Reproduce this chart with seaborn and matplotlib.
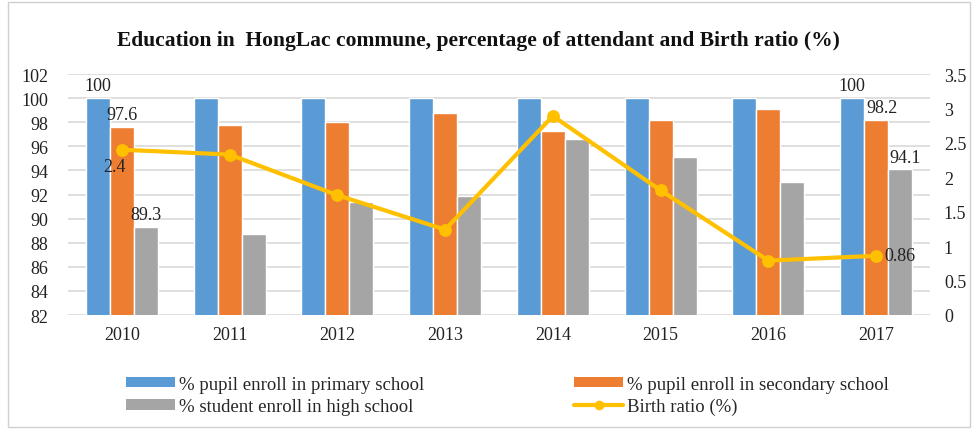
import matplotlib
matplotlib.use("Agg")
import matplotlib.pyplot as plt
import seaborn as sns
import pandas as pd
from matplotlib.patches import Patch, Rectangle
from matplotlib.lines import Line2D

years = ["2010", "2011", "2012", "2013", "2014", "2015", "2016", "2017"]
primary = [100, 100, 100, 100, 100, 100, 100, 100]
secondary = [97.6, 97.8, 98.0, 98.8, 97.3, 98.2, 99.1, 98.2]
high = [89.3, 88.7, 91.4, 91.9, 96.6, 95.1, 93.0, 94.1]
birth = [2.4, 2.33, 1.74, 1.24, 2.89, 1.81, 0.79, 0.86]

s_primary = "% pupil enroll in primary school"
s_secondary = "% pupil enroll in secondary school"
s_high = "% student enroll in high school"
s_birth = "Birth ratio (%)"

c_blue, c_orange, c_gray, c_gold = "#5B9BD5", "#ED7D31", "#A5A5A5", "#FFC000"

sns.set_theme(style="white")
plt.rcParams["font.family"] = ["Liberation Serif", "DejaVu Serif"]

df = pd.DataFrame({
    "year": years * 3,
    "value": primary + secondary + high,
    "series": [s_primary] * 8 + [s_secondary] * 8 + [s_high] * 8,
})
dfl = pd.DataFrame({"year": years, "birth": birth})

fig = plt.figure(figsize=(9.76, 4.31), dpi=100)
ax = fig.add_axes([68 / 976, 1 - 316 / 431, (930 - 68) / 976, (316 - 75) / 431])

sns.barplot(data=df, x="year", y="value", hue="series", ax=ax,
            palette=[c_blue, c_orange, c_gray], width=0.67, saturation=1,
            legend=False, zorder=2)
ax.set_ylim(82, 102)
ax.set_yticks(range(82, 103, 2))
ax.set_xlim(-0.5, len(years) - 0.5)
ax.grid(axis="y", color="#D9D9D9", linewidth=1.2, zorder=0)
ax.set_axisbelow(True)
for sp in ax.spines.values():
    sp.set_visible(False)
ax.set_xlabel("")
ax.set_ylabel("")
ax.tick_params(axis="both", length=0, labelsize=13, colors="#222222")
ax.tick_params(axis="x", pad=8)
ax.tick_params(axis="y", pad=14)

ax2 = ax.twinx()
sns.pointplot(data=dfl, x="year", y="birth", ax=ax2, color=c_gold,
              markers="o", markersize=7, linewidth=3)
ax2.set_ylim(0, 3.5)
ax2.set_yticks([i * 0.5 for i in range(8)])
ax2.set_yticklabels([f"{i * 0.5:g}" for i in range(8)])
ax2.set_xlim(-0.5, len(years) - 0.5)
for sp in ax2.spines.values():
    sp.set_visible(False)
ax2.set_ylabel("")
ax2.tick_params(axis="y", length=0, labelsize=13, colors="#222222", pad=10)

# data labels
bw = 0.67 / 3
lab_kw = dict(fontsize=13, color="#222222", ha="center", va="bottom")
ax.text(0 - bw, primary[0] + 0.3, f"{primary[0]:g}", **lab_kw)
ax.text(0, secondary[0] + 0.3, f"{secondary[0]:g}", **lab_kw)
ax.text(0 + bw, high[0] + 0.3, f"{high[0]:g}", **lab_kw)
ax.text(7 - bw, primary[7] + 0.3, f"{primary[7]:g}", **lab_kw)
ax.text(7 + 0.05, secondary[7] + 0.3, f"{secondary[7]:g}", **lab_kw)
ax.text(7 + bw + 0.05, high[7] + 0.3, f"{high[7]:g}", **lab_kw)
ax2.text(0 - 0.07, birth[0] - 0.12, f"{birth[0]:g}", fontsize=13,
         color="#222222", ha="center", va="top")
ax2.text(7 + 0.08, birth[7], f"{birth[7]:g}", fontsize=13,
         color="#222222", ha="left", va="center")

fig.text(0.49, 0.905, "Education in  HongLac commune, percentage of attendant and Birth ratio (%)",
         ha="center", va="center", fontsize=15.5, fontweight="bold", color="#111111",
         family=["Liberation Serif", "DejaVu Serif"])

handles = [
    Patch(facecolor=c_blue, edgecolor="none"),
    Patch(facecolor=c_gray, edgecolor="none"),
    Patch(facecolor=c_orange, edgecolor="none"),
    Line2D([], [], color=c_gold, linewidth=3, marker="o", markersize=6),
]
labels = [s_primary, s_high, s_secondary, s_birth]
fig.legend(handles, labels, loc="center", bbox_to_anchor=(0.52, 0.08), ncol=2,
           frameon=False, prop={"family": ["Liberation Serif"], "size": 13.5},
           columnspacing=8, handlelength=2.6,
           handleheight=0.5, handletextpad=0.2, labelspacing=0.3)

fig.patches.append(Rectangle((0.008, 0.008), 0.986, 0.984, transform=fig.transFigure,
                             fill=False, edgecolor="#D0D0D0", linewidth=1))

fig.savefig("out.png", dpi=100)
